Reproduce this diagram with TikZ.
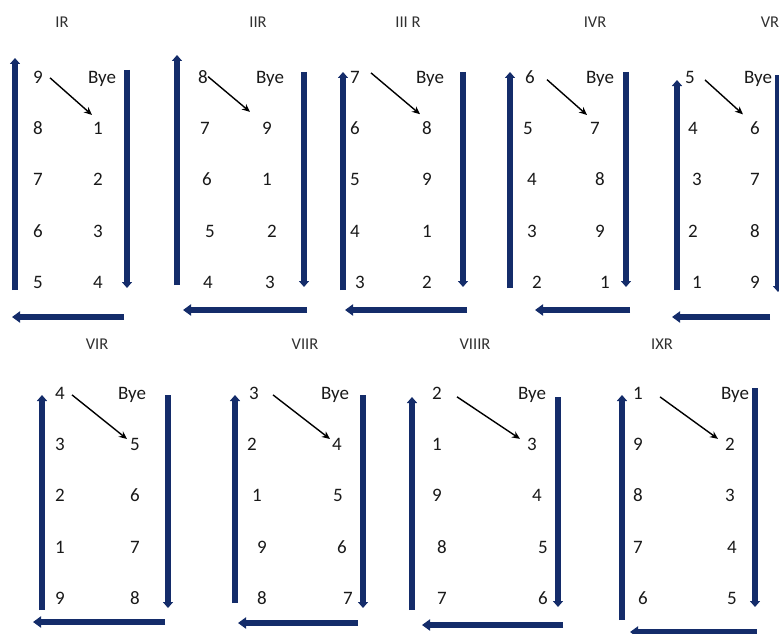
\documentclass[tikz,border=0pt]{standalone}
\usepackage{fontspec}
\setmainfont{Carlito}
\usetikzlibrary{arrows.meta}
\definecolor{barblue}{RGB}{20,44,106}
\definecolor{txt}{RGB}{25,25,25}
\tikzset{
 num/.style={anchor=base, inner sep=1pt, text=txt, font=\fontsize{19}{21}\selectfont},
 ttl/.style={anchor=base, inner sep=1pt, text=txt!90, font=\fontsize{16.5}{19}\selectfont},
 bar/.style={draw=barblue, line width=6pt, -{Triangle[length=6pt,width=10pt]}},
 botbar/.style={draw=barblue, line width=6pt, -{Triangle[length=8pt,width=11pt]}},
 diag/.style={draw=black, line width=1.4pt, -{Stealth[length=8pt,width=7pt]}},
}
\newcommand\rrcol[3]{\foreach \xx/\vv [count=\ii] in {#3} {\node[num] (#1\ii) at (\xx,{#2+51.4*(\ii-1)}) {\vv};}}
\begin{document}
\begin{tikzpicture}[x=1pt,y=-1pt]
\useasboundingbox (0,0) rectangle (779,634);
\clip (0,0) rectangle (779,634);
% IR
\node[ttl] (t1) at (62,28) {IR};
\rrcol{aL}{83}{38/9,38/8,38/7,38/6,38/5}
\rrcol{aR}{83}{102/Bye,98/1,98/2,98/3,98/4}
\draw[diag] ([shift={(6,1)}]aL1.east) -- ([shift={(0,-6)}]aR2.north west);
\draw[bar] (15,290) -- (15,58);
\draw[bar] (127,70) -- (127,288);
\draw[botbar] (124,317) -- (12,317);
% IIR
\node[ttl] (t2) at (258,28) {IIR};
\rrcol{bL}{83}{203/8,205/7,207/6,210/5,208/4}
\rrcol{bR}{83}{270/Bye,267/9,267/1,272/2,270/3}
\draw[diag] ([shift={(-1,0)}]bL1.east) -- ([shift={(-11,-9)}]bR2.north west);
\draw[bar] (177,285) -- (177,55);
\draw[bar] (304,72) -- (304,287);
\draw[botbar] (307,310) -- (183,310);
% III R
\node[ttl] (t3) at (408,28) {III R};
\rrcol{cL}{83}{355/7,355/6,355/5,355/4,360/3}
\rrcol{cR}{83}{430/Bye,427/8,427/9,427/1,427/2}
\draw[diag] ([shift={(10,-4)}]cL1.east) -- ([shift={(-1,-6)}]cR2.north west);
\draw[bar] (343,290) -- (343,72);
\draw[bar] (463,72) -- (463,287);
\draw[botbar] (467,310) -- (345,310);
% IVR
\node[ttl] (t4) at (595,28) {IVR};
\rrcol{dL}{83}{530/6,528/5,532/4,532/3,537/2}
\rrcol{dR}{83}{600/Bye,595/7,600/8,600/9,605/1}
\draw[diag] ([shift={(11,3)}]dL1.east) -- ([shift={(-2,-6)}]dR2.north west);
\draw[bar] (510,288) -- (510,72);
\draw[bar] (626,72) -- (626,287);
\draw[botbar] (630,310) -- (535,310);
% VR
\node[ttl] (t5) at (770,28) {VR};
\rrcol{eL}{83}{690/5,693/4,697/3,693/2,697/1}
\rrcol{eR}{83}{758/Bye,755/6,755/7,755/8,755/9}
\draw[diag] ([shift={(9,3)}]eL1.east) -- ([shift={(-6,-6)}]eR2.north west);
\draw[bar] (677,290) -- (677,80);
\draw[bar] (778,75) -- (778,292);
\draw[botbar] (770,317) -- (672,317);
% VIR
\node[ttl] (t6) at (97,349) {VIR};
\rrcol{fL}{399}{60/4,60/3,60/2,60/1,60/9}
\rrcol{fR}{399}{132/Bye,135/5,135/6,135/7,135/8}
\draw[diag] ([shift={(6,2)}]fL1.east) -- ([shift={(-2,2)}]fR2.north west);
\draw[bar] (42,610) -- (42,395);
\draw[bar] (168,395) -- (168,608);
\draw[botbar] (165,622) -- (33,622);
% VIIR
\node[ttl] (t7) at (305,349) {VIIR};
\rrcol{gL}{399}{254/3,252/2,257/1,262/9,262/8}
\rrcol{gR}{399}{335/Bye,337/4,338/5,342/6,348/7}
\draw[diag] ([shift={(13,2)}]gL1.east) -- ([shift={(-1,2)}]gR2.north west);
\draw[bar] (235,603) -- (235,395);
\draw[bar] (363,395) -- (363,608);
\draw[botbar] (358,623) -- (238,623);
% VIIIR
\node[ttl] (t8) at (475,349) {VIIIR};
\rrcol{hL}{399}{437/2,437/1,437/9,442/8,442/7}
\rrcol{hR}{399}{532/Bye,532/3,537/4,543/5,543/6}
\draw[diag] ([shift={(14,4)}]hL1.east) -- ([shift={(-6,2)}]hR2.north west);
\draw[bar] (412,610) -- (412,397);
\draw[bar] (558,397) -- (558,607);
\draw[botbar] (563,625) -- (422,625);
% IXR
\node[ttl] (t9) at (662,349) {IXR};
\rrcol{iL}{399}{638/1,638/9,638/8,638/7,643/6}
\rrcol{iR}{399}{735/Bye,730/2,730/3,732/4,732/5}
\draw[diag] ([shift={(16,4)}]iL1.east) -- ([shift={(-6,2)}]iR2.north west);
\draw[bar] (622,620) -- (622,395);
\draw[bar] (755,388) -- (755,607);
\draw[botbar] (757,632) -- (630,632);
\end{tikzpicture}
\end{document}
